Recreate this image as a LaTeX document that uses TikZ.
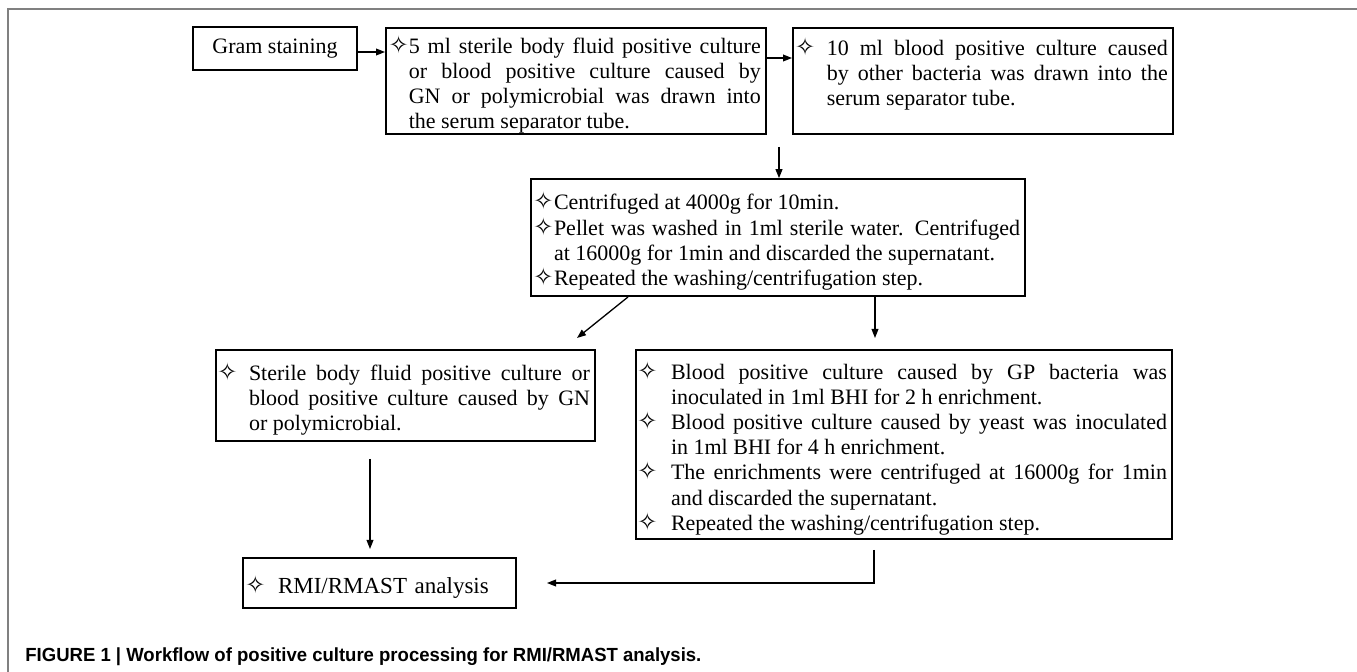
\documentclass[tikz,border=0pt]{standalone}
\usepackage{fontspec}
\usepackage{graphicx}
\setmainfont{Liberation Serif}
\newfontfamily\capfont{Liberation Sans}
\newfontfamily\symfont{DejaVu Sans}
\usetikzlibrary{arrows.meta,positioning}
\newcommand{\itm}[2][0pt]{\par\noindent\hangindent=#2\hangafter=1\makebox[#2][l]{\hspace{#1}\makebox[5.5pt][c]{\symfont\fontsize{12}{12}\selectfont\char"2727}}}

\begin{document}
\begin{tikzpicture}[x=0.5pt,y=-0.5pt,
  box/.style={draw,line width=0.8pt,inner xsep=2.5pt,inner ysep=0pt,align=justify,font=\fontsize{11}{12.6}\selectfont},
  arr/.style={line width=0.65pt,-{Triangle[length=4.5pt,width=3.4pt]}}]
\useasboundingbox (0,0) rectangle (1357,672);
\draw[gray,line width=1pt] (8,672) -- (8,9.5) -- (1357,9.5);
% top row
\node[draw,line width=0.8pt,minimum width=82pt,minimum height=21.5pt,inner sep=0pt,font=\fontsize{11}{12.6}\selectfont] (gram) at (275,48.5) {Gram staining};
\node[box,anchor=north west,text width=185pt,minimum height=53pt] (five) at (385,27) {\itm[1.2pt]{9pt}5 ml sterile body fluid positive culture \linebreak or blood positive culture caused by \linebreak GN or polymicrobial was drawn into \linebreak the serum separator tube.\par\vspace{4pt}};
\node[box,anchor=north west,text width=185pt,minimum height=53pt] (ten) at (792,27) {\itm[1pt]{14.5pt}10 ml blood positive culture caused \linebreak by other bacteria was drawn into the \linebreak serum separator tube.\par\mbox{}\par\vspace{4pt}};
% washing step
\node[box,text width=242pt,minimum height=58.5pt] (cent) at (778,237.5) {\itm[1pt]{9pt}Centrifuged at 4000g for 10min.
 \itm[1pt]{9pt}Pellet was washed in 1ml sterile water. Centrifuged \linebreak at 16000g for 1min and discarded the supernatant.
 \itm[1pt]{9pt}Repeated the washing/centrifugation step.\par};
% two branches
\node[box,text width=184.5pt,minimum height=45.5pt] (gn) at (405.5,395.5) {\itm[0.5pt]{14pt}Sterile body fluid positive culture or \linebreak blood positive culture caused by GN \linebreak or polymicrobial.\par};
\node[box,text width=263pt,minimum height=94.5pt] (gp) at (904,444.5) {\itm[0.5pt]{15pt}Blood positive culture caused by GP bacteria was \linebreak inoculated in 1ml BHI for 2 h enrichment.
 \itm[0.5pt]{15pt}Blood positive culture caused by yeast was inoculated \linebreak in 1ml BHI for 4 h enrichment.
 \itm[0.5pt]{15pt}The enrichments were centrifuged at 16000g for 1min \linebreak and discarded the supernatant.
 \itm[0.5pt]{15pt}Repeated the washing/centrifugation step.\par};
\node[box,align=left,text width=131.5pt,minimum height=25pt,font=\fontsize{11.5}{13}\selectfont] (rmi) at (379.5,583) {\itm[1pt]{15pt}RMI/RMAST analysis\par\vspace{2pt}};
% connectors
\draw[arr] ([yshift=-1.75pt]gram.east) -- ([yshift=-1.75pt]gram.east -| five.west);
\draw[arr] ([yshift=-15.5pt]five.north east) -- ([yshift=-15.5pt]ten.north west);
\coordinate (c0) at (779,147);
\draw[arr] (c0) -- (c0 |- cent.north);
\coordinate (l0) at (628,297); \coordinate (l1) at (577,338);
\draw[arr] (l0) -- (l1);
\coordinate (r0) at (875,297); \coordinate (r1) at (875,338);
\draw[arr] (r0) -- (r1);
\coordinate (g0) at (370,459); \coordinate (g1) at (370,549);
\draw[arr] (g0) -- (g1);
\coordinate (b0) at (874,550); \coordinate (b1) at (547,583);
\draw[arr] (b0) |- (b1);
\node[anchor=west,inner sep=0pt,font=\capfont\bfseries\fontsize{9.5}{9.5}\selectfont] (cap) at (25,657) {\scalebox{0.975}[1]{FIGURE 1 | Workflow of positive culture processing for RMI/RMAST analysis.}};
\end{tikzpicture}
\end{document}
